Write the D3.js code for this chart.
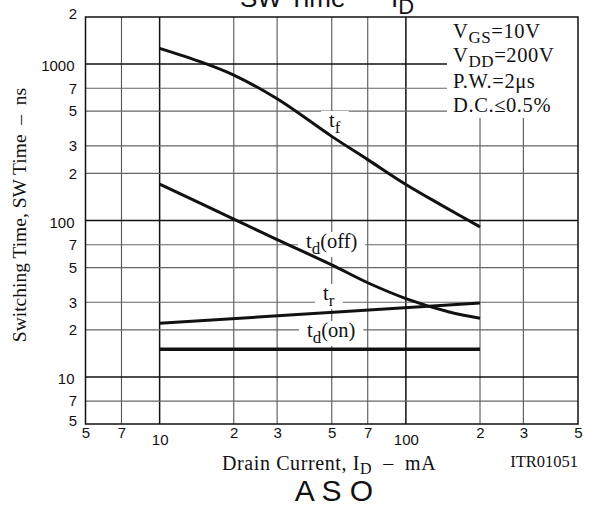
<!DOCTYPE html>
<html>
<head>
<meta charset="utf-8">
<script src="https://cdn.jsdelivr.net/npm/d3@7"></script>
<style>
  html, body { margin: 0; padding: 0; background: #fff; }
  svg { display: block; }
  .serif { font-family: "Liberation Serif", "Times New Roman", serif; }
  .sans { font-family: "Liberation Sans", Arial, sans-serif; }
</style>
</head>
<body>
<svg id="chart" width="594" height="505"></svg>
<script>
// Drain current axis (mA), log scale
const currentTicks = [5, 7, 10, 20, 30, 50, 70, 100, 200, 300, 500];
const currentTickLabels = ["5", "7", "10", "2", "3", "5", "7", "100", "2", "3", "5"];
const currentGrid = [7, 10, 20, 30, 50, 70, 100, 200, 300];

// Switching time axis (ns), log scale
const timeTicks = [5, 7, 10, 20, 30, 50, 70, 100, 200, 300, 500, 700, 1000, 2000];
const timeTickLabels = ["5", "7", "10", "2", "3", "5", "7", "100", "2", "3", "5", "7", "1000", "2"];
const timeGrid = [7, 10, 20, 30, 50, 70, 100, 200, 300, 500, 700, 1000];
const decades = [10, 100, 1000];

// Curves: fall time, turn-off delay, rise time, turn-on delay
const tfCurrent = [10, 15, 20, 30, 50, 70, 100, 140, 200];
const tfTime = [1260, 1020, 850, 600, 345, 245, 170, 125, 91];
const tdOffCurrent = [10, 20, 30, 50, 70, 100, 150, 200];
const tdOffTime = [171, 102, 75.5, 52, 40, 31.7, 26, 23.7];
const trCurrent = [10, 200];
const trTime = [22, 29.7];
const tdOnCurrent = [10, 200];
const tdOnTime = [15, 15];

const conditions = [
  { main: "V", sub: "GS", rest: "=10V" },
  { main: "V", sub: "DD", rest: "=200V" },
  { main: "P.W.=2\u03BCs", sub: "", rest: "" },
  { main: "D.C.\u22640.5%", sub: "", rest: "" }
];

const svg = d3.select("#chart");
const x = d3.scaleLog().domain([5, 500]).range([85.5, 578]);
const y = d3.scaleLog().domain([5, 2000]).range([424, 17]);
const [x0, x1] = x.range();
const [yb, yt] = y.range();

// grid
const grid = svg.append("g");
grid.selectAll("line.v").data(currentGrid).join("line")
  .attr("x1", d => x(d)).attr("x2", d => x(d))
  .attr("y1", yt).attr("y2", yb)
  .attr("stroke", d => decades.includes(d) ? "#111" : "#555")
  .attr("stroke-width", d => decades.includes(d) ? 1.5 : 1.1);
grid.selectAll("line.h").data(timeGrid).join("line")
  .attr("y1", d => y(d)).attr("y2", d => y(d))
  .attr("x1", x0).attr("x2", x1)
  .attr("stroke", d => decades.includes(d) ? "#111" : "#666")
  .attr("stroke-width", d => decades.includes(d) ? 1.5 : 1.1);

// test conditions block
svg.append("rect").attr("x", 447).attr("y", yt).attr("width", x1 - 447).attr("height", 118 - yt).attr("fill", "#fff");
const condY = [38, 62, 88, 112];
conditions.forEach((c, i) => {
  const t = svg.append("text").attr("class", "serif").attr("x", 453).attr("y", condY[i])
    .attr("font-size", 20.5).attr("letter-spacing", 0.6).attr("fill", "#111");
  t.append("tspan").text(c.main);
  if (c.sub) {
    t.append("tspan").attr("font-size", 17).attr("dy", 5).text(c.sub);
    t.append("tspan").attr("dy", -5).text(c.rest);
  }
});

// curve labels with white backing boxes
const curveLabels = [
  { t: "t", sub: "f", rest: "", x: 329, y: 127 },
  { t: "t", sub: "d", rest: "(off)", x: 306, y: 248 },
  { t: "t", sub: "r", rest: "", x: 323, y: 300 },
  { t: "t", sub: "d", rest: "(on)", x: 307, y: 337 }
];
const boxLayer = svg.append("g");
const curveLayer = svg.append("g");
const labelLayer = svg.append("g");
curveLabels.forEach(l => {
  const t = labelLayer.append("text").attr("class", "serif").attr("x", l.x).attr("y", l.y)
    .attr("font-size", 20.5).attr("fill", "#111");
  t.append("tspan").text(l.t);
  t.append("tspan").attr("font-size", 17).attr("dy", 6).text(l.sub);
  if (l.rest) t.append("tspan").attr("dy", -6).text(l.rest);
  const b = t.node().getBBox();
  boxLayer.append("rect")
    .attr("x", b.x - 8).attr("y", b.y + 2).attr("width", b.width + 16).attr("height", b.height - 3)
    .attr("fill", "#fff");
});

const line = d3.line().x(d => x(d[0])).y(d => y(d[1])).curve(d3.curveCatmullRom.alpha(0.5));
const series = [
  { c: tfCurrent, v: tfTime, w: 3 },
  { c: tdOffCurrent, v: tdOffTime, w: 3 },
  { c: trCurrent, v: trTime, w: 3 },
  { c: tdOnCurrent, v: tdOnTime, w: 3.5 }
];
series.forEach(s => {
  curveLayer.append("path")
    .attr("d", line(d3.zip(s.c, s.v)))
    .attr("fill", "none").attr("stroke", "#111").attr("stroke-width", s.w);
});

// frame
svg.append("rect").attr("x", x0).attr("y", yt).attr("width", x1 - x0).attr("height", yb - yt)
  .attr("fill", "none").attr("stroke", "#111").attr("stroke-width", 1.5);

// axes (labels only)
const xAxis = d3.axisBottom(x).tickValues(currentTicks)
  .tickFormat((d, i) => currentTickLabels[i]).tickSize(0).tickPadding(0);
const gx = svg.append("g").attr("transform", `translate(0,${yb})`).call(xAxis);
gx.select(".domain").remove();
gx.selectAll("text").attr("class", "sans").attr("font-size", 15).attr("fill", "#111")
  .attr("dy", null)
  .attr("y", d => (d === 10 || d === 100) ? 21 : 14);

const yAxis = d3.axisLeft(y).tickValues(timeTicks)
  .tickFormat((d, i) => timeTickLabels[i]).tickSize(0).tickPadding(0);
const gy = svg.append("g").attr("transform", `translate(${x0},0)`).call(yAxis);
gy.select(".domain").remove();
gy.selectAll("text").attr("class", "sans").attr("font-size", 15).attr("fill", "#111")
  .attr("x", d => decades.includes(d) ? -11 : -8.5)
  .attr("dy", d => {
    if (d === 2000) return "0.1em";
    if (d === 5) return "0.1em";
    if (decades.includes(d)) return "0.45em";
    return "0.32em";
  });

// axis titles
svg.append("text").attr("class", "serif").attr("font-size", 19.5).attr("fill", "#111")
  .attr("text-anchor", "middle")
  .attr("transform", "translate(26,215) rotate(-90)")
  .style("white-space", "pre")
  .text("Switching Time, SW Time  \u2013  ns");

const xt = svg.append("text").attr("class", "serif").attr("font-size", 20).attr("fill", "#111")
  .attr("letter-spacing", 0.6)
  .attr("x", 222).attr("y", 470).style("white-space", "pre");
xt.append("tspan").text("Drain Current, I");
xt.append("tspan").attr("font-size", 16).attr("dy", 4).text("D");
xt.append("tspan").attr("dy", -4).text("  \u2013  mA");

svg.append("text").attr("class", "serif").attr("font-size", 16.5).attr("fill", "#111")
  .attr("x", 578).attr("y", 467).attr("text-anchor", "end").text("ITR01051");

// chart headers
svg.append("text").attr("class", "sans").attr("font-size", 26).attr("fill", "#111")
  .attr("x", 240).attr("y", 7).text("SW Time");
svg.append("text").attr("class", "sans").attr("font-size", 26).attr("fill", "#111")
  .attr("x", 370).attr("y", 4).attr("text-anchor", "middle").text("\u2013");
const tI = svg.append("text").attr("class", "sans").attr("font-size", 26).attr("fill", "#111")
  .attr("x", 391).attr("y", 7);
tI.append("tspan").text("I");
tI.append("tspan").attr("font-size", 22).attr("dy", 7).text("D");

svg.append("text").attr("class", "sans").attr("font-size", 30).attr("fill", "#111")
  .attr("x", 334).attr("y", 501).attr("text-anchor", "middle")
  .style("white-space", "pre").text("A S O");

svg.append("text").attr("class", "sans").attr("font-size", 15).attr("fill", "#111")
  .attr("x", 78).attr("y", 515).attr("text-anchor", "end").text("5");
</script>
</body>
</html>
